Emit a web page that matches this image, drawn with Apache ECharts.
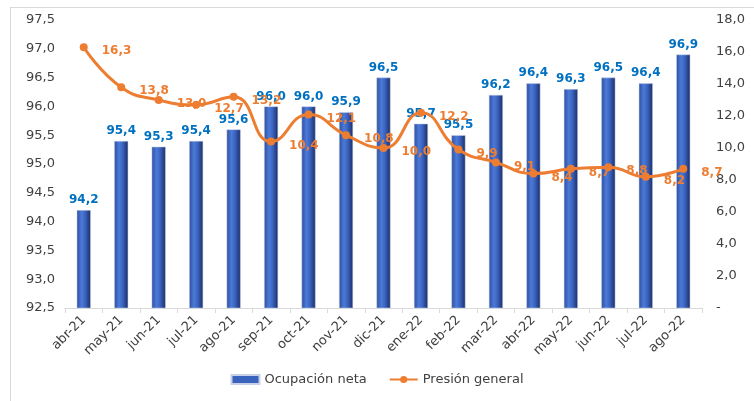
<!DOCTYPE html>
<html>
<head>
<meta charset="utf-8">
<script src="https://cdn.jsdelivr.net/npm/echarts@6/dist/echarts.min.js"></script>
<style>
html,body{margin:0;padding:0;background:#fff;}
#frame{position:absolute;left:10px;top:7px;width:760px;height:420px;border:1px solid #d9d9d9;}
#c{position:absolute;left:0;top:0;width:754px;height:401px;}
</style>
</head>
<body>
<div id="frame"></div>
<div id="c"></div>
<script>
const categories = ['abr-21','may-21','jun-21','jul-21','ago-21','sep-21','oct-21','nov-21','dic-21','ene-22','feb-22','mar-22','abr-22','may-22','jun-22','jul-22','ago-22'];
const ocupacionNeta = [94.2,95.4,95.3,95.4,95.6,96.0,96.0,95.9,96.5,95.7,95.5,96.2,96.4,96.3,96.5,96.4,96.9];
const presionGeneral = [16.3,13.8,13.0,12.7,13.2,10.4,12.1,10.8,10.0,12.2,9.9,9.1,8.4,8.7,8.8,8.2,8.7];

const fmt = v => Number(v).toFixed(1).replace('.', ',');
const font = 'DejaVu Sans';
const chart = echarts.init(document.getElementById('c'));
const barGrad = new echarts.graphic.LinearGradient(0,0,1,0,[
  {offset:0,color:'#2e4d9c'},
  {offset:0.35,color:'#4b7ad8'},
  {offset:0.6,color:'#3b64c0'},
  {offset:1,color:'#1b2d66'}
]);
chart.setOption({
  animation:false,
  textStyle:{fontFamily:font},
  grid:{left:65,right:52,top:20,bottom:93},
  legend:{
    bottom:10,left:'center',itemGap:22,
    textStyle:{fontFamily:font,fontSize:13,color:'#404040'},
    data:[
      {name:'Ocupación neta',icon:'rect',itemStyle:{color:'#3a63bd'}},
      {name:'Presión general'}
    ],
    itemWidth:28,itemHeight:9
  },
  xAxis:{
    type:'category',data:categories,boundaryGap:true,
    axisLine:{lineStyle:{color:'#d9d9d9'}},
    axisTick:{show:true,length:5,lineStyle:{color:'#d9d9d9'}},
    axisLabel:{rotate:45,fontSize:13,color:'#404040',fontFamily:font,margin:10,interval:0}
  },
  yAxis:[
    {type:'value',min:92.5,max:97.5,interval:0.5,
     splitLine:{show:false},axisLine:{show:false},axisTick:{show:false},
     axisLabel:{fontSize:13,color:'#404040',fontFamily:font,margin:10,formatter:v=>fmt(v)}},
    {type:'value',min:0,max:18,interval:2,
     splitLine:{show:false},axisLine:{show:false},axisTick:{show:false},
     axisLabel:{fontSize:13,color:'#404040',fontFamily:font,margin:14,formatter:v=>v===0?'-':fmt(v)}}
  ],
  series:[
    {name:'Ocupación neta',type:'bar',data:ocupacionNeta,barWidth:14,
     itemStyle:{color:barGrad,borderColor:'#c7d0e6',borderWidth:0.5},
     label:{show:true,position:'top',distance:4,color:'#0070c0',fontWeight:'bold',fontSize:12,fontFamily:font,formatter:p=>fmt(p.value)}},
    {name:'Presión general',type:'line',yAxisIndex:1,data:presionGeneral,smooth:0.5,
     symbol:'circle',symbolSize:8,
     lineStyle:{color:'#ed7d31',width:3},
     itemStyle:{color:'#ed7d31'},
     label:{show:true,position:'right',distance:14,offset:[0,4],color:'#ed7d31',fontWeight:'bold',fontSize:12,fontFamily:font,formatter:p=>fmt(p.value)},
     z:5}
  ]
});
</script>
</body>
</html>
